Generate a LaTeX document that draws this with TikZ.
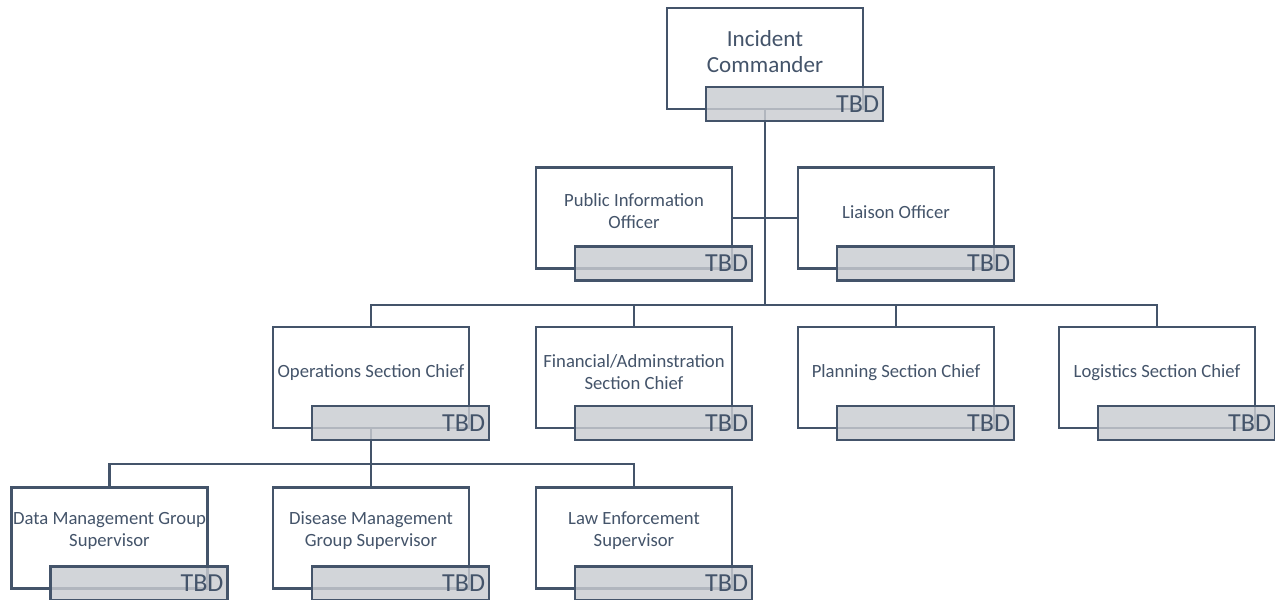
\documentclass[tikz,border=0pt]{standalone}
\usepackage{fontspec}
\setmainfont{Carlito}
\definecolor{ink}{HTML}{44546A}
\definecolor{tbdgray}{HTML}{C9CCD1}
\begin{document}
\begin{tikzpicture}[x=0.75pt,y=-0.75pt,
  mainbox/.style={draw=ink,line width=1.9pt,fill=white,minimum width=147pt,minimum height=75.75pt,inner sep=0pt},
  tbdbox/.style={draw=ink,line width=1.9pt,fill=tbdgray,fill opacity=0.82,text opacity=1,
    minimum width=132.75pt,minimum height=25.5pt,inner xsep=3pt,inner ysep=0pt,
    text width=126.75pt,align=right,font=\fontsize{19.5}{21}\selectfont,text=ink},
  lbl/.style={text=ink,align=center,font=\fontsize{14}{16.5}\selectfont,inner sep=0pt},
  biglbl/.style={lbl,font=\fontsize{17.3}{19.5}\selectfont},
  conn/.style={draw=ink,line width=1.9pt}]
\useasboundingbox (0,0) rectangle (1275,600);

% main boxes
\node[mainbox] (ic)   at (765,58.5) {};
\node[mainbox] (pio)  at (634,218) {};
\node[mainbox] (lo)   at (896,218) {};
\node[mainbox] (ops)  at (371,377.5) {};
\node[mainbox] (fin)  at (634,377.5) {};
\node[mainbox] (pln)  at (896,377.5) {};
\node[mainbox] (log)  at (1157,377.5) {};
\node[mainbox] (data) at (109.5,538) {};
\node[mainbox] (dis)  at (371,538) {};
\node[mainbox] (law)  at (634,538) {};

% labels
\node[biglbl] (ict)   at (765,52) {Incident\\Commander};
\node[lbl] (piot)  at (634,211) {Public Information\\Officer};
\node[lbl] (lot)   at (896,212) {Liaison Officer};
\node[lbl] (opst)  at (371,373) {Operations Section Chief};
\node[lbl] (fint)  at (634,372) {Financial/Adminstration\\Section Chief};
\node[lbl] (plnt)  at (896,373) {Planning Section Chief};
\node[lbl] (logt)  at (1157,373) {Logistics Section Chief};
\node[lbl] (datat) at (109.5,531) {Data Management Group\\Supervisor};
\node[lbl] (dist)  at (371,531) {Disease Management\\Group Supervisor};
\node[lbl] (lawt)  at (634,531) {Law Enforcement\\Supervisor};

% connectors
\coordinate (bus1) at (765,305);
\coordinate (bus2) at (371,464);
\draw[conn] (ic.south) -- (bus1);
\draw[conn] (pio.east) -- (lo.west);
\draw[conn] (ops.north) |- (bus1) -| (log.north);
\draw[conn] (fin.north) -- (fin.north |- bus1);
\draw[conn] (pln.north) -- (pln.north |- bus1);
\draw[conn] (ops.south) -- (bus2);
\draw[conn] (data.north) |- (bus2) -| (law.north);
\draw[conn] (dis.north) -- (bus2);

% TBD boxes
\node[tbdbox] (ictbd)   at (794.5,104) {TBD};
\node[tbdbox] (piotbd)  at (663.5,263.5) {TBD};
\node[tbdbox] (lotbd)   at (925.5,263.5) {TBD};
\node[tbdbox] (opstbd)  at (400.5,423) {TBD};
\node[tbdbox] (fintbd)  at (663.5,423) {TBD};
\node[tbdbox] (plntbd)  at (925.5,423) {TBD};
\node[tbdbox] (logtbd)  at (1186.5,423) {TBD};
\node[tbdbox] (datatbd) at (139,583.5) {TBD};
\node[tbdbox] (distbd)  at (400.5,583.5) {TBD};
\node[tbdbox] (lawtbd)  at (663.5,583.5) {TBD};
\end{tikzpicture}
\end{document}
